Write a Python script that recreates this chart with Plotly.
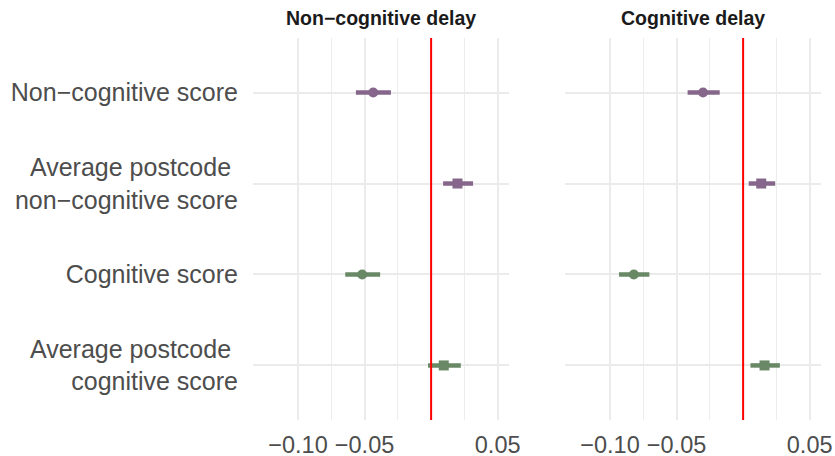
import plotly.graph_objects as go

# ---- data ----
categories = ["Non\u2212cognitive score",
              "Average postcode\u00a0<br>non\u2212cognitive score",
              "Cognitive score",
              "Average postcode\u00a0<br>cognitive score"]
panels = ["Non\u2212cognitive delay", "Cognitive delay"]

# estimates and 95% CIs per panel (rows in category order)
est_noncog_delay = [-0.0435, 0.0198, -0.0518, 0.0095]
lo_noncog_delay = [-0.0565, 0.0090, -0.0645, -0.0023]
hi_noncog_delay = [-0.0302, 0.0315, -0.0383, 0.0223]

est_cog_delay = [-0.0301, 0.0136, -0.0821, 0.0161]
lo_cog_delay = [-0.0417, 0.0042, -0.0932, 0.0055]
hi_cog_delay = [-0.0176, 0.0241, -0.0704, 0.0276]

row_colors = ["#86678B", "#86678B", "#688866", "#688866"]
row_symbols = ["circle", "square", "circle", "square"]

major_ticks = [-0.10, -0.05, 0.0, 0.05]
major_labels = ["\u22120.10", "\u22120.05", "", "0.05"]
minor_ticks = [-0.075, -0.025, 0.025]

W, H = 835, 456
FONT = "Liberation Sans, Arial, sans-serif"

fig = go.Figure()

series = [(est_noncog_delay, lo_noncog_delay, hi_noncog_delay),
          (est_cog_delay, lo_cog_delay, hi_cog_delay)]
ypos = list(range(1, len(categories) + 1))

for p, (est, lo, hi) in enumerate(series):
    xa = "x" if p == 0 else "x2"
    ya = "y" if p == 0 else "y2"
    for i in range(len(categories)):
        fig.add_trace(go.Scatter(
            x=[est[i]], y=[ypos[i]], xaxis=xa, yaxis=ya, mode="markers",
            marker=dict(symbol=row_symbols[i], size=10,
                        color=row_colors[i], line=dict(width=0)),
            error_x=dict(type="data", symmetric=False,
                         array=[hi[i] - est[i]], arrayminus=[est[i] - lo[i]],
                         thickness=4.5, width=0, color=row_colors[i]),
            showlegend=False, hoverinfo="skip"))

ydom = [1 - 420 / H, 1 - 38 / H]
xdom1 = [253 / W, 509 / W]
xdom2 = [565 / W, 821 / W]
xrange_ = [-0.1338, 0.0585]

def xaxis_cfg(dom):
    return dict(domain=dom, range=xrange_, tickvals=major_ticks, ticktext=major_labels,
                tickangle=0, showgrid=True, gridcolor="#EBEBEB", gridwidth=2,
                zeroline=False, showline=False, ticks="", automargin=False,
                tickfont=dict(family=FONT, size=23.5, color="#4D4D4D"),
                ticklabelstandoff=8,
                minor=dict(tickvals=minor_ticks, showgrid=True, gridcolor="#EDEDED",
                           gridwidth=1.0, ticks=""),
                fixedrange=True)

def yaxis_cfg(show_labels, anchor):
    return dict(domain=ydom, range=[4.6, 0.4], tickvals=ypos, ticktext=categories,
                showticklabels=show_labels, showgrid=True, gridcolor="#EBEBEB",
                gridwidth=2, zeroline=False, showline=False, ticks="", automargin=False,
                tickfont=dict(family=FONT, size=25, color="#4D4D4D"),
                ticklabelstandoff=14, anchor=anchor, fixedrange=True)

fig.update_layout(
    width=W, height=H, margin=dict(l=0, r=0, t=0, b=0, autoexpand=False),
    paper_bgcolor="white", plot_bgcolor="white",
    xaxis=xaxis_cfg(xdom1) | dict(anchor="y"),
    xaxis2=xaxis_cfg(xdom2) | dict(anchor="y2"),
    yaxis=yaxis_cfg(True, "x"),
    yaxis2=yaxis_cfg(False, "x2"),
)

for xr, yr in [("x", "y"), ("x2", "y2")]:
    fig.add_shape(type="line", xref=xr, yref=yr + " domain", x0=0, x1=0, y0=0, y1=1,
                  line=dict(color="#FF0000", width=2), layer="above")

for p, dom in enumerate([xdom1, xdom2]):
    fig.add_annotation(text="<b>%s</b>" % panels[p], xref="paper", yref="paper",
                       x=(dom[0] + dom[1]) / 2, y=1 - 18 / H, showarrow=False,
                       xanchor="center", yanchor="middle",
                       font=dict(family=FONT, size=19.5, color="#1A1A1A"))

fig.write_html("out.html")
